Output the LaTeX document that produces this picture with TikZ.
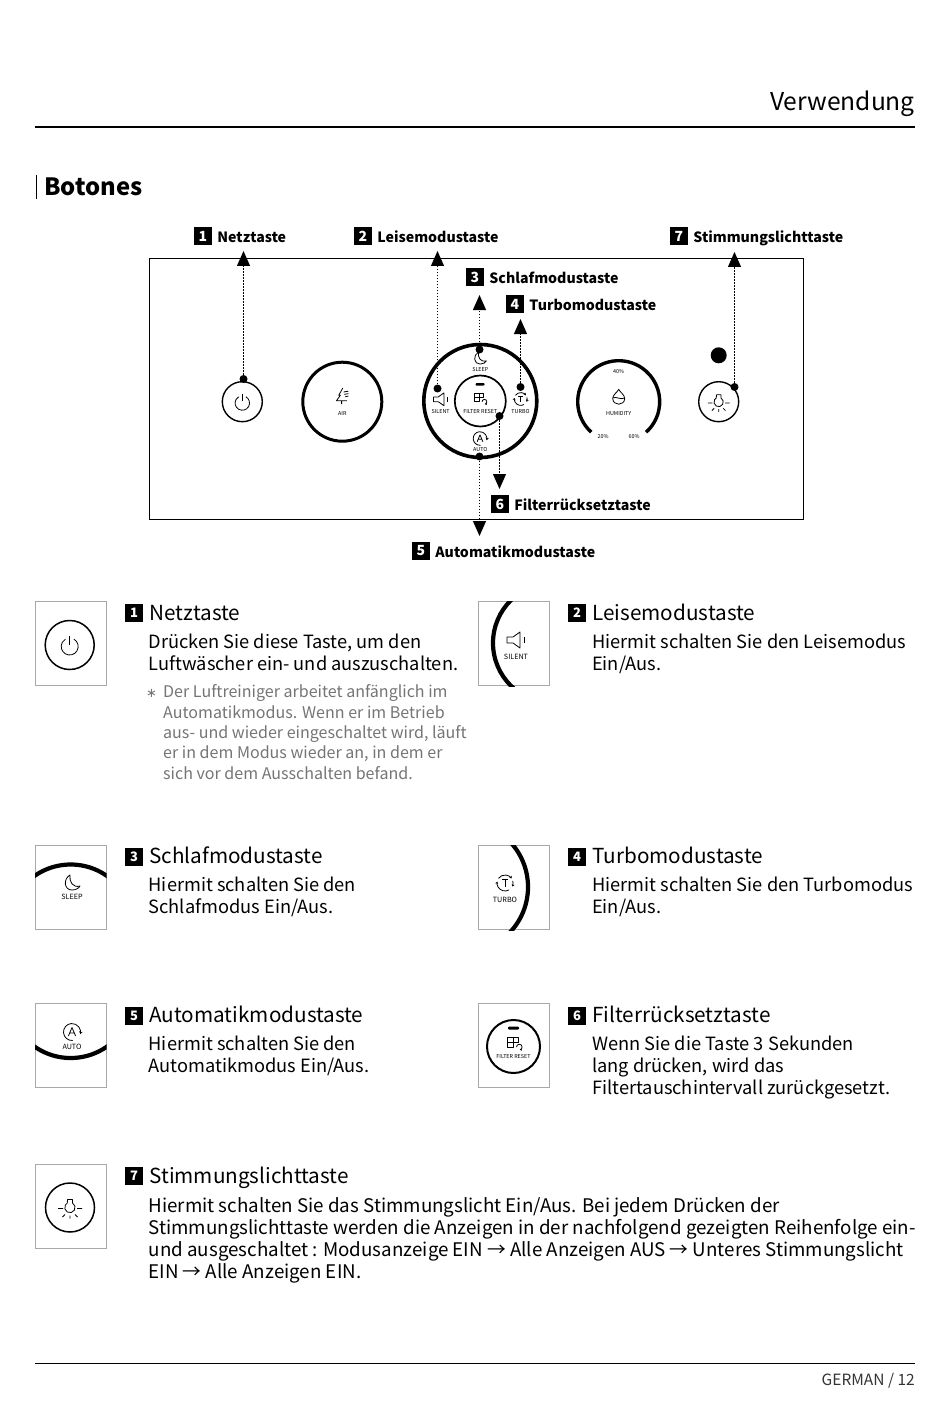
\documentclass[tikz,border=0pt]{standalone}
\usepackage{fontspec}
\usepackage{xcolor}
\usepackage{tikz}
\usetikzlibrary{arrows.meta,positioning}
\setmainfont{Noto Sans CJK KR}
\newfontfamily\starfont{DejaVu Sans}
\definecolor{TileGray}{HTML}{A8A8A8}
\definecolor{NoteGray}{HTML}{757575}
\definecolor{PageInk}{HTML}{000000}
\tikzset{
  badge/.style={
    fill=black,
    text=white,
    minimum size=18pt,
    inner sep=0pt,
    font=\fontsize{14}{14}\selectfont\bfseries
  },
  numbadge/.style={badge,font=\fontsize{13}{13}\selectfont\bfseries},
  calltext/.style={
    inner sep=0pt,
    text height=12.5pt,
    text depth=.2pt,
    font=\fontsize{14.15}{15}\selectfont\bfseries,
    text=PageInk
  },
  titletext/.style={
    inner sep=0pt,
    text height=15pt,
    text depth=.6pt,
    font=\fontsize{20.7}{22}\selectfont,
    text=PageInk
  },
  bodytext/.style={
    anchor=north west,
    inner sep=0pt,
    align=left,
    font=\fontsize{18.25}{22}\selectfont,
    text=PageInk
  },
  notetext/.style={
    anchor=north west,
    inner sep=0pt,
    align=left,
    font=\fontsize{16.05}{20.4}\selectfont,
    text=NoteGray
  },
  tinytext/.style={inner sep=0pt,font=\fontsize{5.4}{6}\selectfont,text=PageInk},
  smalltext/.style={inner sep=0pt,font=\fontsize{7.2}{8}\selectfont,text=PageInk},
  tile/.style={
    draw=TileGray,
    line width=.8pt,
    minimum width=71.5pt,
    minimum height=84.5pt,
    inner sep=0pt
  },
  pressdot/.style={circle,fill=black,minimum size=8pt,inner sep=0pt},
  callout/.style={
    -{Triangle[length=15pt,width=13pt]},
    line width=1.1pt,
    dash pattern=on 1.5pt off 1.5pt
  },
  ringbig/.style={circle,draw=black,line width=3.6pt,inner sep=0pt},
  ringthin/.style={circle,draw=black,line width=1.4pt,inner sep=0pt},
  glyph/.style={line width=.8pt,line join=round},
  poweric/.pic={
    \draw[glyph] (300:8.5) arc (300:600:8.5);
    \draw[glyph] (0,-11) -- (0,-2);
  },
  bulbic/.pic={
    \draw[glyph] (-2.5,-8) -- (2.5,-8) -- (2.5,-4.5) arc (-60:240:5.2) -- cycle;
    \draw[glyph] (-12,1) -- (-7,1) (7,1) -- (12,1) (0,8) -- (0,11)
      (-5,7) -- (-7.5,9.5) (5,7) -- (7.5,9.5);
  },
  moonic/.pic={
    \draw[glyph] (-2,-8) .. controls (-9,-4) and (-8,7) .. (0,7)
      .. controls (4,7) and (7,5) .. (8,3)
      .. controls (1,5) and (-3,-1) .. (-2,-8) -- cycle;
  },
  speakeric/.pic={
    \draw[glyph] (-9,-3) -- (-3,-3) -- (4,-8) -- (4,8) -- (-3,3) -- (-9,3) -- cycle;
    \draw[glyph] (8,-3) -- (8,3);
  },
  turboic/.pic={
    \draw[glyph,-{Stealth[length=2.2pt,width=3pt]}] (215:8) arc (215:325:8);
    \draw[glyph,-{Stealth[length=2.2pt,width=3pt]}] (345:8) arc (345:385:8);
    \draw[glyph,-{Stealth[length=2.2pt,width=3pt]}] (60:8) arc (60:190:8);
    \draw[glyph] (-3,-3.5) -- (3,-3.5) (0,-3.5) -- (0,4);
  },
  autoic/.pic={
    \draw[glyph,-{Stealth[length=2.8pt,width=3.4pt]}] (85:8.5) arc (85:375:8.5) ;
    \draw[glyph] (-3.6,4) -- (0,-4.5) -- (3.6,4) (-2.3,1) -- (2.3,1);
  },
  treeic/.pic={
    \draw[glyph] (1,-10) -- (-4,-1) -- (-2,-1) -- (-7,6) -- (6,6) (-.5,6) -- (-.5,10);
    \draw[glyph] (2,-5) -- (8,-6) (3,-2) -- (8,-3) (4,1) -- (8,0);
  },
  dropic/.pic={
    \draw[glyph] (0,-9) .. controls (-2,-5) and (-7,-3) .. (-7,2)
      .. controls (-7,6) and (-3.5,8.5) .. (0,8.5)
      .. controls (3.5,8.5) and (7,6) .. (7,2)
      .. controls (7,-3) and (2,-5) .. (0,-9) -- cycle;
    \draw[glyph] (-7,1) .. controls (-3,-1) and (3,4) .. (7,1);
  },
  filteric/.pic={
    \draw[glyph] (-6,-5) -- (5,-5) -- (5,0) -- (0,0) -- (0,5) -- (-6,5) -- cycle
      (-6,0) -- (0,0) (-.5,-5) -- (-.5,0);
    \draw[glyph,-{Stealth[length=2pt,width=2.6pt]}] (3,5) arc (180:440:2.8);
  }
}
\begin{document}
\begin{tikzpicture}[x=1pt,y=-1pt]
  \useasboundingbox (0,0) rectangle (950,1420);

  % page head
  \node[anchor=base east,inner sep=0pt,font=\fontsize{24.6}{26}\selectfont,text=PageInk] (head) at (915,111) {Verwendung};
  \coordinate (headL) at (35,127);
  \coordinate (headR) at (915,127);
  \draw[line width=1.6pt] (headL) -- (headR);
  \node[anchor=base west,inner sep=0pt,font=\fontsize{23.8}{25}\selectfont\bfseries,text=PageInk] (botones) at (44,196) {Botones};
  \coordinate (barT) at (36,175);
  \coordinate (barB) at (36,199);
  \draw[line width=1pt] (barT) -- (barB);

  % panel
  \node[draw=black,line width=.9pt,minimum width=654pt,minimum height=260.5pt,inner sep=0pt] (panel) at (476.5,389) {};
  \node[ringthin,minimum size=40pt] (powerbtn) at (242.3,401.7) {};
  \pic[scale=.85] at (242.3,403) {poweric};
  \node[ringbig,minimum size=79pt,line width=3pt] (airring) at (342.3,401.7) {};
  \pic[scale=.8] at (342,396) {treeic};
  \node[tinytext] (airlbl) at (342.3,414) {AIR};
  \node[ringbig,minimum size=113pt] (modering) at (480.3,401) {};
  \node[ringthin,minimum size=51pt,line width=1.7pt] (filterring) at (480.3,401) {};
  \fill[rounded corners=1pt] (475.5,383) rectangle (484.5,385.6);
  \pic[scale=.85] at (479.5,397.5) {filteric};
  \node[tinytext] (filterlbl) at (480.3,411.7) {FILTER RESET};
  \pic[scale=.8] at (480,358.5) {moonic};
  \node[tinytext] (sleeplbl) at (480.3,369.5) {SLEEP};
  \pic[scale=.8] at (440.7,399.3) {speakeric};
  \node[tinytext] (silentlbl) at (440.7,411.7) {SILENT};
  \pic[scale=.8] at (520.7,399) {turboic};
  \node[tinytext] (turbolbl) at (520.5,411.7) {TURBO};
  \pic[scale=.8] at (480,438.5) {autoic};
  \node[tinytext] (autolbl) at (480.3,450) {AUTO};
  \draw[line width=3.4pt] (618.7,401.7) ++(132:41) arc (132:408:41);
  \pic[scale=.85] at (618.7,397) {dropic};
  \node[tinytext] (hum40) at (618.7,371.3) {40\%};
  \node[tinytext] (humlbl) at (618.7,413.7) {HUMIDITY};
  \node[tinytext] (hum20) at (603,437) {20\%};
  \node[tinytext] (hum60) at (634,437) {60\%};
  \node[circle,fill=black,minimum size=16pt,inner sep=0pt] (lamp) at (718.7,355.3) {};
  \node[ringthin,minimum size=40pt] (moodbtn) at (718.7,401.7) {};
  \pic[scale=.9] at (718.7,402) {bulbic};

  % callouts
  \node[badge] (b1) at (203,236.5) {1};
  \node[calltext,right=5pt of b1] (c1) {Netztaste};
  \node[badge] (b2) at (363,236.5) {2};
  \node[calltext,right=5pt of b2] (c2) {Leisemodustaste};
  \node[badge] (b7) at (679,236.5) {7};
  \node[calltext,right=5pt of b7] (c7) {Stimmungslichttaste};
  \node[badge] (b3) at (475,277) {3};
  \node[calltext,right=5pt of b3] (c3) {Schlafmodustaste};
  \node[badge] (b4) at (515,304) {4};
  \node[calltext,right=5pt of b4] (c4) {Turbomodustaste};
  \node[badge] (b6) at (500,504) {6};
  \node[calltext,right=5pt of b6] (c6) {Filterrücksetztaste};
  \node[badge] (b5) at (421,551) {5};
  \node[calltext,right=5pt of b5] (c5) {Automatikmodustaste};

  \node[pressdot] (d1) at (243.5,379) {};
  \node[pressdot] (d2) at (437.5,388.5) {};
  \node[pressdot] (d3) at (479.5,349.5) {};
  \node[pressdot] (d4) at (520.5,387) {};
  \node[pressdot] (d5) at (479.5,456.5) {};
  \node[pressdot] (d6) at (499.5,416) {};
  \node[pressdot] (d7) at (734.5,387) {};
  \coordinate (t1) at (243.5,251);
  \coordinate (t2) at (437.5,251);
  \coordinate (t3) at (479.5,295);
  \coordinate (t4) at (520.5,319);
  \coordinate (t5) at (479.5,536);
  \coordinate (t6) at (499.5,489);
  \coordinate (t7) at (734.5,252);
  \draw[callout] (d1) -- (t1);
  \draw[callout] (d2) -- (t2);
  \draw[callout] (d3) -- (t3);
  \draw[callout] (d4) -- (t4);
  \draw[callout] (d5) -- (t5);
  \draw[callout] (d6) -- (t6);
  \draw[callout] (d7) -- (t7);

  % power
  \node[tile] (tileA) at (70.7,643.3) {};
  \node[ringthin,minimum size=49pt,line width=1.5pt] (ringA) at (69.7,645) {};
  \pic at (69.7,646.5) {poweric};
  \node[numbadge] (nA) at (134,613) {1};
  \node[titletext,right=6pt of nA] (titleA) {Netztaste};
  \node[bodytext] (bodyA) at (148.5,634) {Drücken Sie diese Taste, um den\\Luftwäscher ein- und auszuschalten.};
  \node[notetext] (noteA) at (146,684.5) {\makebox[17pt][l]{\starfont\fontsize{13}{13}\selectfont ∗}Der Luftreiniger arbeitet anfänglich im\\
    \hspace*{17pt}Automatikmodus. Wenn er im Betrieb\\
    \hspace*{17pt}aus- und wieder eingeschaltet wird, läuft\\
    \hspace*{17pt}er in dem Modus wieder an, in dem er\\
    \hspace*{17pt}sich vor dem Ausschalten befand.};

  % silent
  \node[tile] (tileB) at (513.7,643.3) {};
  \begin{scope}
    \clip (478,601) rectangle (549.5,686);
    \draw[line width=4.2pt] (553,643) circle (60);
  \end{scope}
  \pic at (516,640) {speakeric};
  \node[smalltext] (silentB) at (516,656.5) {SILENT};
  \node[numbadge] (nB) at (577,613) {2};
  \node[titletext,right=6pt of nB] (titleB) {Leisemodustaste};
  \node[bodytext] (bodyB) at (592,634) {Hiermit schalten Sie den Leisemodus\\Ein/Aus.};

  % sleep
  \node[tile] (tileC) at (70.7,887.3) {};
  \begin{scope}
    \clip (35,845) rectangle (106.5,930);
    \draw[line width=4.2pt] (70.7,927.5) circle (63);
  \end{scope}
  \pic at (72,883) {moonic};
  \node[smalltext] (sleepC) at (72,897) {SLEEP};
  \node[numbadge] (nC) at (134,856.5) {3};
  \node[titletext,right=6pt of nC] (titleC) {Schlafmodustaste};
  \node[bodytext] (bodyC) at (148.5,877) {Hiermit schalten Sie den\\Schlafmodus Ein/Aus.};

  % turbo
  \node[tile] (tileD) at (513.7,887.3) {};
  \begin{scope}
    \clip (478,845) rectangle (549.5,930);
    \draw[line width=4.2pt] (462,887) circle (66);
  \end{scope}
  \pic at (505,883) {turboic};
  \node[smalltext] (turboD) at (505,900) {TURBO};
  \node[numbadge] (nD) at (577,856.5) {4};
  \node[titletext,right=6pt of nD] (titleD) {Turbomodustaste};
  \node[bodytext] (bodyD) at (592,877) {Hiermit schalten Sie den Turbomodus\\Ein/Aus.};

  % auto
  \node[tile] (tileE) at (70.7,1045.3) {};
  \begin{scope}
    \clip (35,1003) rectangle (106.5,1088);
    \draw[line width=4.2pt] (70.7,995) circle (63);
  \end{scope}
  \pic at (72,1032) {autoic};
  \node[smalltext] (autoE) at (72,1047) {AUTO};
  \node[numbadge] (nE) at (134,1015.5) {5};
  \node[titletext,right=6pt of nE] (titleE) {Automatikmodustaste};
  \node[bodytext] (bodyE) at (148.5,1036) {Hiermit schalten Sie den\\Automatikmodus Ein/Aus.};

  % filter
  \node[tile] (tileF) at (513.7,1045.3) {};
  \node[ringthin,minimum size=53pt,line width=2pt] (ringF) at (513.5,1046.5) {};
  \fill[rounded corners=1pt] (508,1026.7) rectangle (519,1029.5);
  \pic at (513.5,1042) {filteric};
  \node[tinytext] (filterF) at (513.5,1056.5) {FILTER RESET};
  \node[numbadge] (nF) at (577,1015.5) {6};
  \node[titletext,right=6pt of nF] (titleF) {Filterrücksetztaste};
  \node[bodytext] (bodyF) at (592,1036) {Wenn Sie die Taste 3 Sekunden\\lang drücken, wird das\\Filtertauschintervall zurückgesetzt.};

  % mood light
  \node[tile] (tileG) at (70.7,1206.5) {};
  \node[ringthin,minimum size=49pt,line width=1.5pt] (ringG) at (70,1207.5) {};
  \pic at (70,1207.5) {bulbic};
  \node[numbadge] (nG) at (134,1176) {7};
  \node[titletext,right=6pt of nG] (titleG) {Stimmungslichttaste};
  \node[bodytext,font=\fontsize{18.75}{22}\selectfont] (bodyG) at (148.5,1197) {Hiermit schalten Sie das Stimmungslicht Ein/Aus. Bei jedem Drücken der\\
    Stimmungslichttaste werden die Anzeigen in der nachfolgend gezeigten Reihenfolge ein-\\
    und ausgeschaltet : Modusanzeige EIN → Alle Anzeigen AUS → Unteres Stimmungslicht\\
    EIN → Alle Anzeigen EIN.};

  % page foot
  \coordinate (footL) at (35,1363);
  \coordinate (footR) at (915,1363);
  \draw[line width=.8pt] (footL) -- (footR);
  \node[anchor=base east,inner sep=0pt,font=\fontsize{15.5}{15}\selectfont,text=PageInk!80] (foot) at (915,1385) {GERMAN / 12};
\end{tikzpicture}
\end{document}
